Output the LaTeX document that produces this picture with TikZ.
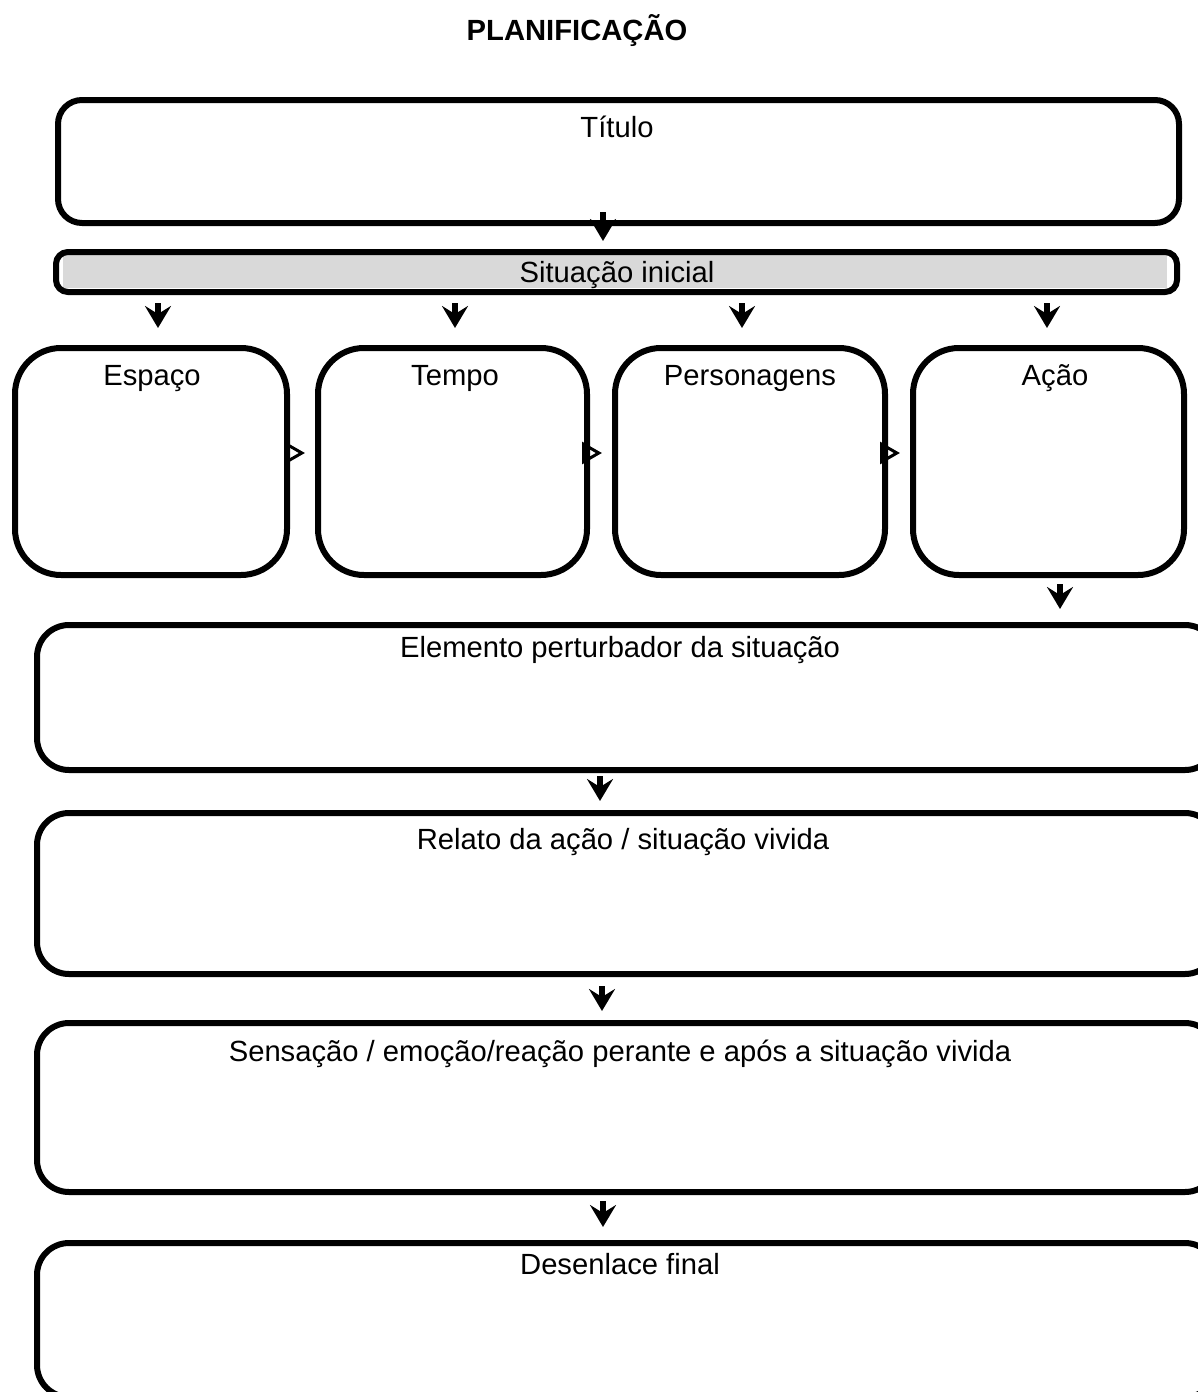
\documentclass[tikz,border=0pt]{standalone}
\usepackage{fontspec}
\setmainfont{Liberation Sans}
\usetikzlibrary{arrows.meta}
\definecolor{sitgray}{HTML}{D9D9D9}
\begin{document}
\begin{tikzpicture}[x=0.5pt,y=-0.5pt,
  box/.style={draw, line width=3pt, rounded corners=#1, inner sep=0pt},
  box/.default=12pt,
  lbl/.style={font=\fontsize{14.6}{17}\selectfont, inner sep=0pt, anchor=base},
  down/.style={line width=3pt, -{Stealth[length=11pt,width=13pt,inset=4pt]}},
  side/.style={line width=1.5pt, -{Triangle[open,length=10pt,width=11pt]}, shorten >=5pt}]
\useasboundingbox (0,0) rectangle (1198,1392);
\clip (0,0) rectangle (1198,1392);

\node[font=\bfseries\fontsize{14.6}{17}\selectfont, inner sep=0pt, anchor=base] (head) at (577,40) {PLANIFICAÇÃO};

% Titulo
\node[box=12pt, minimum width=560.5pt, minimum height=61.5pt] (titulo) at (618.5,161.5) {};
\node[lbl] (tituloT) at (617,137) {Título};

% Situacao inicial
\node[fill=sitgray, minimum width=552pt, minimum height=16.5pt, inner sep=0pt] (sitfill) at (615,271.5) {};
\node[box=6pt, minimum width=560.5pt, minimum height=20pt] (sit) at (616.5,272) {};
\node[lbl] (sitT) at (617,282) {Situação inicial};

% four boxes
\node[box=23pt, minimum width=136pt, minimum height=113.5pt] (espaco) at (151,461.5) {};
\node[box=23pt, minimum width=134.5pt, minimum height=113.5pt] (tempo) at (452.5,461.5) {};
\node[box=23pt, minimum width=135pt, minimum height=113.5pt] (pers) at (750,461.5) {};
\node[box=23pt, minimum width=135.5pt, minimum height=113.5pt] (acao) at (1048.5,461.5) {};
\node[lbl] (espacoT) at (152,385) {Espaço};
\node[lbl] (tempoT) at (455,385) {Tempo};
\node[lbl] (persT) at (750,385) {Personagens};
\node[lbl] (acaoT) at (1055,385) {Ação};

% lower boxes (run off the right edge)
\node[box=16pt, minimum width=590pt, minimum height=72.5pt] (elem) at (627,697.5) {};
\node[box=16pt, minimum width=590pt, minimum height=80.5pt] (relato) at (627,893.5) {};
\node[box=16pt, minimum width=590pt, minimum height=84.5pt] (sens) at (627,1107.5) {};
\node[box=16pt, minimum width=590pt, minimum height=77pt] (desen) at (627,1320) {};
\node[lbl] (elemT) at (620,657) {Elemento perturbador da situação};
\node[lbl] (relatoT) at (623,849) {Relato da ação / situação vivida};
\node[lbl] (sensT) at (620,1061) {Sensação / emoção/reação perante e após a situação vivida};
\node[lbl] (desenT) at (620,1274) {Desenlace final};

% arrow coordinates
\coordinate (a0) at (603,212);
\coordinate (b0) at (603,241);
\coordinate (a1) at (158,303);
\coordinate (b1) at (158,328);
\coordinate (a2) at (455,303);
\coordinate (b2) at (455,328);
\coordinate (a3) at (742,303);
\coordinate (b3) at (742,328);
\coordinate (a4) at (1047,303);
\coordinate (b4) at (1047,328);
\coordinate (a5) at (1060,584);
\coordinate (b5) at (1060,609);
\coordinate (a6) at (600,776);
\coordinate (b6) at (600,801);
\coordinate (a7) at (602,986);
\coordinate (b7) at (602,1011);
\coordinate (a8) at (603,1201);
\coordinate (b8) at (603,1227);

\draw[down] (a0) -- (b0);
\draw[down] (a1) -- (b1);
\draw[down] (a2) -- (b2);
\draw[down] (a3) -- (b3);
\draw[down] (a4) -- (b4);
\draw[down] (a5) -- (b5);
\draw[down] (a6) -- (b6);
\draw[down] (a7) -- (b7);
\draw[down] (a8) -- (b8);

% side arrows
\draw[side] (espaco.east |- 0,453) -- (tempo.west |- 0,453);
\draw[side] (tempo.east |- 0,453) -- (pers.west |- 0,453);
\draw[side] (pers.east |- 0,453) -- (acao.west |- 0,453);
\end{tikzpicture}
\end{document}
